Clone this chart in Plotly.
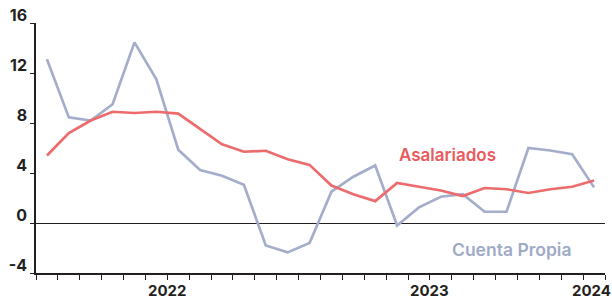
import plotly.graph_objects as go

months = ["2022-01","2022-02","2022-03","2022-04","2022-05","2022-06","2022-07","2022-08",
          "2022-09","2022-10","2022-11","2022-12","2023-01","2023-02","2023-03","2023-04",
          "2023-05","2023-06","2023-07","2023-08","2023-09","2023-10","2023-11","2023-12",
          "2024-01","2024-02"]

asalariados = [5.4, 7.2, 8.2, 8.9, 8.8, 8.9, 8.75, 7.5, 6.3, 5.7, 5.78, 5.1, 4.65, 3.0,
               2.3, 1.75, 3.2, 2.9, 2.6, 2.15, 2.8, 2.7, 2.4, 2.7, 2.9, 3.4]

cuenta_propia = [13.1, 8.45, 8.2, 9.5, 14.45, 11.5, 5.86, 4.24, 3.78, 3.06, -1.8, -2.35,
                 -1.6, 2.5, 3.7, 4.6, -0.2, 1.25, 2.1, 2.3, 0.9, 0.9, 6.0, 5.8, 5.5, 2.85]

y_ticks = [-4, 0, 4, 8, 12, 16]
year_labels = ["2022", "2023", "2024"]
year_label_pos = [6, 18, 25.37]
year_bounds = [0, 12, 24]

x = [i + 0.5 for i in range(len(months))]

RED = "#EC6B6D"
BLUE = "#A4AECB"
FONT = "Inter"
INK = "#231F20"

L, R, T, B = 36, 7, 23, 26
W, H = 612, 299
PW, PH = W - L - R, H - T - B

fig = go.Figure()
fig.add_trace(go.Scatter(x=x, y=cuenta_propia, mode="lines",
                         line=dict(color=BLUE, width=2.7), name="Cuenta Propia"))
fig.add_trace(go.Scatter(x=x, y=asalariados, mode="lines",
                         line=dict(color=RED, width=2.7), name="Asalariados"))

fig.update_layout(
    width=W, height=H,
    margin=dict(l=L, r=R, t=T, b=B, autoexpand=False),
    paper_bgcolor="white", plot_bgcolor="white",
    showlegend=False,
    font=dict(family=FONT, color=INK),
    xaxis=dict(
        range=[0, len(months)], automargin=False,
        showgrid=False, zeroline=False,
        showline=True, linecolor=INK, linewidth=1.5,
        tickmode="array", tickvals=year_bounds, ticktext=["" for _ in year_bounds],
        ticks="outside", ticklen=8, tickwidth=1.3, tickcolor=INK,
        minor=dict(tickmode="array", tickvals=list(range(len(months) + 1)),
                   ticks="outside", ticklen=5, tickwidth=1.1, tickcolor=INK,
                   showgrid=False),
    ),
    yaxis=dict(
        range=[-4, 16], automargin=False,
        showgrid=False,
        zeroline=True, zerolinecolor=INK, zerolinewidth=1.4,
        showline=True, linecolor=INK, linewidth=1.5,
        tickmode="array", tickvals=y_ticks, ticktext=[str(v) for v in y_ticks],
        ticks="outside", ticklen=4, tickwidth=1.3, tickcolor=INK,
        tickfont=dict(family=FONT, size=16, color=INK, weight=700),
        ticklabelshift=-8,
    ),
)

for lab, pos in zip(year_labels, year_label_pos):
    fig.add_annotation(x=pos, y=0, xref="x", yref="paper", text=lab, showarrow=False,
                       xanchor="center", yanchor="top", yshift=-6,
                       font=dict(family=FONT, size=15, color=INK, weight=700))

fig.add_annotation(x=(447 - L) / PW, y=(H - B - 155) / PH, xref="paper", yref="paper",
                   text="Asalariados", showarrow=False, xanchor="center", yanchor="middle",
                   font=dict(family=FONT, size=17, color="#E95A5C", weight=600))
fig.add_annotation(x=(511 - L) / PW, y=(H - B - 249) / PH, xref="paper", yref="paper",
                   text="Cuenta Propia", showarrow=False, xanchor="center", yanchor="middle",
                   font=dict(family=FONT, size=17.5, color="#9FAAC7", weight=600))

fig.write_html("out.html", config={"displayModeBar": False},
               post_script="document.body.style.margin='0';document.body.style.padding='0';")
